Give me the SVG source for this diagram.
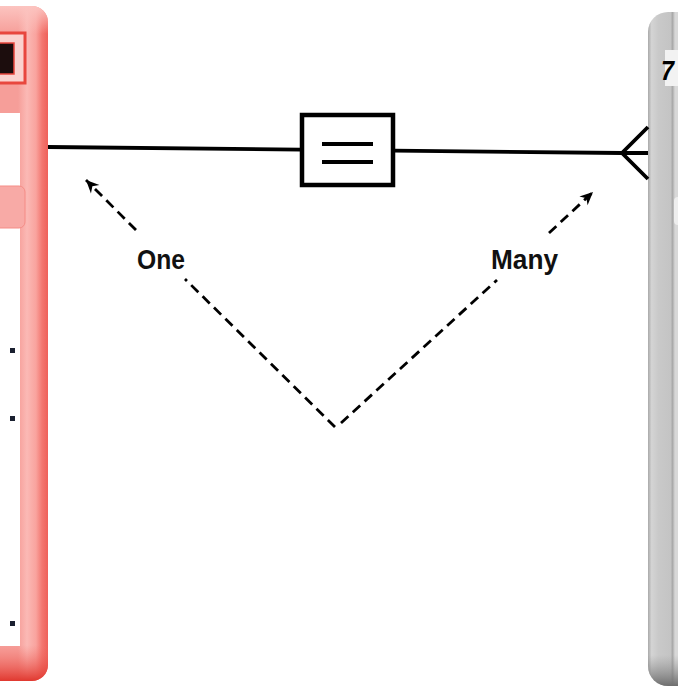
<svg xmlns="http://www.w3.org/2000/svg" width="678" height="686" viewBox="0 0 678 686">
  <style>
    .rel { fill: none; stroke: #000; stroke-width: 3.8; stroke-linecap: butt; }
    .dash { fill: none; stroke: #000; stroke-width: 2.8; stroke-dasharray: 10 6; }
    .lbl { font-family: "Liberation Sans", Arial, sans-serif; font-weight: bold; font-size: 28px; fill: #111; }
    .dot { fill: #1a2030; }
  </style>
  <defs>
    <linearGradient id="redBody" gradientUnits="userSpaceOnUse" x1="18" y1="0" x2="48" y2="0">
      <stop offset="0" stop-color="#f69e99"/>
      <stop offset="0.3" stop-color="#fbb9b5"/>
      <stop offset="0.6" stop-color="#f9a39e"/>
      <stop offset="0.8" stop-color="#f37770"/>
      <stop offset="1" stop-color="#ef6059"/>
    </linearGradient>
    <linearGradient id="redBottom" gradientUnits="userSpaceOnUse" x1="0" y1="645" x2="0" y2="681">
      <stop offset="0" stop-color="#f26a62" stop-opacity="0"/>
      <stop offset="1" stop-color="#e0382f" stop-opacity="1"/>
    </linearGradient>
    <linearGradient id="redTop" gradientUnits="userSpaceOnUse" x1="0" y1="6" x2="0" y2="34">
      <stop offset="0" stop-color="#fcc4c0"/>
      <stop offset="1" stop-color="#fcc4c0" stop-opacity="0"/>
    </linearGradient>
    <linearGradient id="grayBody" gradientUnits="userSpaceOnUse" x1="648" y1="0" x2="678" y2="0">
      <stop offset="0" stop-color="#a9a9a9"/>
      <stop offset="0.12" stop-color="#d4d4d4"/>
      <stop offset="0.35" stop-color="#c9c9c9"/>
      <stop offset="0.75" stop-color="#c4c4c4"/>
      <stop offset="0.82" stop-color="#a9a9a9"/>
      <stop offset="0.9" stop-color="#d8d8d8"/>
      <stop offset="1" stop-color="#d8d8d8"/>
    </linearGradient>
    <linearGradient id="grayBottom" gradientUnits="userSpaceOnUse" x1="0" y1="655" x2="0" y2="686">
      <stop offset="0" stop-color="#909090" stop-opacity="0"/>
      <stop offset="1" stop-color="#6e6e6e" stop-opacity="1"/>
    </linearGradient>
    <clipPath id="clipRed">
      <rect x="-40" y="6" width="88" height="675" rx="16"/>
    </clipPath>
    <clipPath id="clipGray">
      <rect x="648" y="12" width="80" height="674" rx="20"/>
    </clipPath>
    <marker id="arrow" viewBox="-14 -7 16 14" refX="0" refY="0" markerWidth="16" markerHeight="14" markerUnits="userSpaceOnUse" orient="auto">
      <path d="M0,0 L-13,-6 L-9,0 L-13,6 Z" fill="#000"/>
    </marker>
  </defs>

  <rect width="678" height="686" fill="#fff"/>

  <g id="entity-left">
    <g clip-path="url(#clipRed)">
      <rect x="-40" y="6" width="88" height="675" fill="url(#redBody)"/>
      <rect x="-40" y="6" width="88" height="30" fill="url(#redTop)"/>
      <rect x="-40" y="645" width="88" height="36" fill="url(#redBottom)"/>
    </g>
    <rect x="-6" y="33" width="31" height="50" fill="#fbd3cf" stroke="#e8473e" stroke-width="3"/>
    <rect x="-6" y="43" width="20" height="31" fill="#1c0d0d" stroke="#e8473e" stroke-width="1.5"/>
    <rect x="-6" y="113" width="26" height="533" fill="#fff"/>
    <rect x="-10" y="186" width="35" height="42" rx="6" fill="#f8aaa6"/>
    <rect x="-10" y="186" width="35" height="42" rx="6" fill="none" stroke="#f58d87" stroke-width="1"/>
    <rect class="dot" x="10" y="348" width="5" height="5"/>
    <rect class="dot" x="10" y="416" width="5" height="5"/>
    <rect class="dot" x="10" y="621" width="5" height="5"/>
  </g>

  <g id="entity-right">
    <g clip-path="url(#clipGray)">
      <rect x="648" y="12" width="80" height="674" fill="url(#grayBody)"/>
      <rect x="648" y="655" width="80" height="31" fill="url(#grayBottom)"/>
    </g>
    <rect x="665" y="50" width="20" height="36" fill="#f2f2f2"/>
    <text x="661" y="80" font-family="'Liberation Sans', Arial, sans-serif" font-weight="bold" font-style="italic" font-size="28" fill="#000" textLength="13" lengthAdjust="spacingAndGlyphs">7</text>
    <rect x="674" y="197" width="10" height="28" rx="4" fill="#eeeeee"/>
  </g>

  <g id="connectors">
    <path class="rel" d="M48,147 L622,153"/>
    <path class="rel" d="M648,127 L622,153 L648,179 M622,153 L648,153"/>
    <path class="dash" d="M335,427 L185,279"/>
    <path class="dash" d="M136,230 L86,180" marker-end="url(#arrow)"/>
    <path class="dash" d="M341,423 L497,280"/>
    <path class="dash" d="M549,233 L593,192" marker-end="url(#arrow)"/>
  </g>

  <g id="relationship">
    <rect x="302" y="115" width="91" height="70" fill="#fff" stroke="#000" stroke-width="4.5"/>
    <line x1="322" y1="144" x2="373" y2="144" stroke="#000" stroke-width="4"/>
    <line x1="322" y1="162" x2="373" y2="162" stroke="#000" stroke-width="4"/>
  </g>

  <g id="labels">
    <text class="lbl" x="137" y="269" textLength="48" lengthAdjust="spacingAndGlyphs">One</text>
    <text class="lbl" x="491" y="269" textLength="67" lengthAdjust="spacingAndGlyphs">Many</text>
  </g>
</svg>
